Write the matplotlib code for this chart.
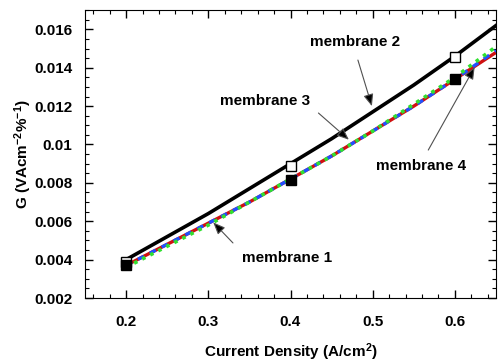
import numpy as np
import matplotlib
matplotlib.use("Agg")
import matplotlib.pyplot as plt
from matplotlib.ticker import MultipleLocator

plt.rcParams['font.family'] = ['Liberation Sans', 'DejaVu Sans']
plt.rcParams['font.weight'] = 'bold'
plt.rcParams['mathtext.fontset'] = 'custom'
plt.rcParams['mathtext.rm'] = 'Liberation Sans:bold'
plt.rcParams['mathtext.it'] = 'Liberation Sans:bold'
plt.rcParams['mathtext.bf'] = 'Liberation Sans:bold'

# model curves
current = [0.2, 0.25, 0.3, 0.35, 0.4, 0.45, 0.5, 0.55, 0.6, 0.65]
g_membrane2 = [0.0040, 0.0052, 0.0064, 0.0077, 0.0090, 0.0103, 0.0117, 0.0131, 0.0146, 0.0162]
g_membrane1 = [0.0037, 0.0048, 0.0059, 0.0070, 0.0082, 0.0094, 0.0107, 0.0120, 0.0134, 0.0148]
g_membrane3 = [0.0037, 0.0048, 0.0059, 0.0070, 0.0082, 0.0094, 0.0107, 0.0120, 0.0134, 0.0149]
g_membrane4 = [0.0036, 0.0047, 0.0058, 0.0070, 0.0082, 0.0094, 0.0107, 0.0121, 0.0135, 0.0151]

# measured points
meas_current = [0.2, 0.4, 0.6]
meas_open = [0.0039, 0.00888, 0.01455]
meas_filled = [0.0037, 0.00815, 0.0134]

fig = plt.figure(figsize=(5.0, 3.63), dpi=100)
ax = fig.add_axes([0.17, 0.179, 0.822, 0.793])

ax.plot(current, g_membrane2, color='black', lw=2.6, zorder=3)
ax.plot(current, g_membrane1, color='#d01010', lw=2.4, zorder=3)
ax.plot(current, g_membrane3, color='#2050ff', lw=2.4, ls=(0, (2, 2)), zorder=4)
ax.plot(current, g_membrane4, color='#30e030', lw=2.6, ls=(0, (1, 1.5)), zorder=5)

ax.plot(meas_current, meas_open, ls='none', marker='s', ms=7.5, mfc='white',
        mec='black', mew=1.0, zorder=6)
ax.plot(meas_current, meas_filled, ls='none', marker='s', ms=7.5, mfc='black',
        mec='black', zorder=7)

arrow = dict(arrowstyle='-|>,head_length=0.6,head_width=0.25', fc='black',
             ec='#505050', lw=0.8, mutation_scale=12, shrinkA=0, shrinkB=0)
txt = dict(fontsize=11, fontweight='bold', ha='center', va='center')
ax.annotate('', xy=(0.499, 0.0120), xytext=(0.482, 0.0144), arrowprops=arrow)
ax.text(0.478, 0.01533, 'membrane 2', **txt)
ax.annotate('', xy=(0.471, 0.01025), xytext=(0.434, 0.01164), arrowprops=arrow)
ax.text(0.3695, 0.01226, 'membrane 3', **txt)
ax.annotate('', xy=(0.624, 0.01403), xytext=(0.5676, 0.00971), arrowprops=arrow)
ax.text(0.559, 0.00888, 'membrane 4', **txt)
ax.annotate('', xy=(0.306, 0.00594), xytext=(0.330, 0.00487), arrowprops=arrow)
ax.text(0.396, 0.00408, 'membrane 1', **txt)

ax.set_xlim(0.15, 0.65)
ax.set_ylim(0.002, 0.017)
ax.set_xticks([0.2, 0.3, 0.4, 0.5, 0.6])
ax.set_xticklabels(['0.2', '0.3', '0.4', '0.5', '0.6'])
ax.set_yticks([0.002, 0.004, 0.006, 0.008, 0.01, 0.012, 0.014, 0.016])
ax.set_yticklabels(['0.002', '0.004', '0.006', '0.008', '0.01', '0.012', '0.014', '0.016'])
ax.xaxis.set_minor_locator(MultipleLocator(0.02))
ax.yaxis.set_minor_locator(MultipleLocator(0.0005))
ax.tick_params(which='both', direction='in', top=True, right=True, labelsize=11)
ax.tick_params(which='major', length=6, width=1)
ax.tick_params(axis='x', which='major', pad=12)
ax.tick_params(axis='y', which='major', pad=9)
ax.tick_params(which='minor', length=3, width=0.8)

ax.set_xlabel('Current Density (A/cm$^2$)', fontsize=11, fontweight='bold', labelpad=9)
ax.set_ylabel('G (VAcm$^{-2}$%$^{-1}$)', fontsize=11, fontweight='bold', labelpad=0)

fig.savefig('out.png', dpi=100)
